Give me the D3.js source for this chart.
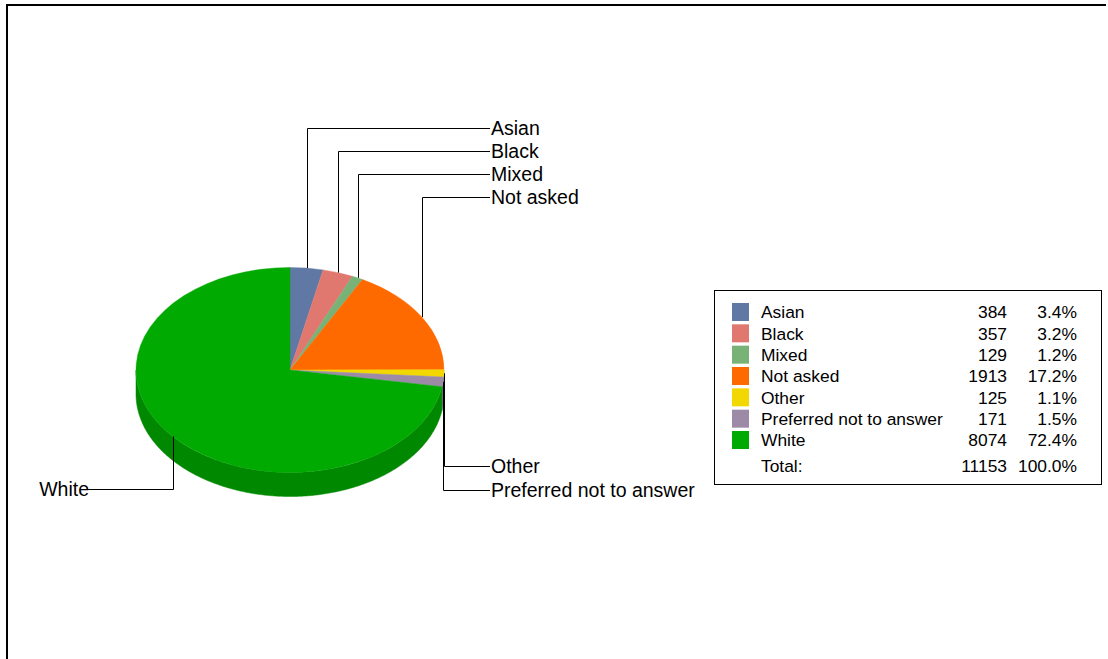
<!DOCTYPE html>
<html>
<head>
<meta charset="utf-8">
<script src="https://cdn.jsdelivr.net/npm/d3@7"></script>
<style>
html,body{margin:0;padding:0;background:#fff;}
svg{display:block;font-family:"Liberation Sans",Arial,sans-serif;}
</style>
</head>
<body>
<svg id="chart" width="1108" height="659"></svg>
<script>
const categories = ["Asian","Black","Mixed","Not asked","Other","Preferred not to answer","White"];
const counts = [384,357,129,1913,125,171,8074];
const percents = ["3.4%","3.2%","1.2%","17.2%","1.1%","1.5%","72.4%"];
const colors = ["#6079a4","#e0786f","#79b276","#ff6a00","#f2d800","#9c8aa6","#00aa00"];
const sideColors = ["#4a5f82","#b35f58","#5e8c5b","#cc5400","#c2ad00","#7c6e85","#008800"];
const totalLabel = "Total:";
const totalCount = 11153;
const totalPercent = "100.0%";

const svg = d3.select("#chart");

// frame
svg.append("path").attr("d","M7,670 L7,5 L1106,5")
  .attr("fill","none").attr("stroke","#000").attr("stroke-width",2);

const cx = 290, cy = 370, rx = 154, ry = 102.5, depth = 24;
const data = categories.map((c,i)=>({name:c,value:counts[i],color:colors[i],side:sideColors[i],i}));
const pie = d3.pie().value(d=>d.value).sort(null);
const arcs = pie(data);

const ell = (a, dy=0) => [cx + rx*Math.sin(a), cy - ry*Math.cos(a) + dy];
const line = d3.line();

// side walls (front half: PI/2 .. 3PI/2)
const gSide = svg.append("g");
arcs.forEach(a=>{
  const s = Math.max(a.startAngle, Math.PI/2), e = Math.min(a.endAngle, 3*Math.PI/2);
  if (e <= s) return;
  const n = Math.max(2, Math.ceil((e-s)/0.01));
  const top = d3.range(n+1).map(k=>ell(s+(e-s)*k/n));
  const bot = d3.range(n+1).map(k=>ell(e-(e-s)*k/n, depth));
  gSide.append("path").attr("d", line(top.concat(bot))+"Z")
    .attr("fill", a.data.side).attr("stroke", a.data.side).attr("stroke-width",0.5);
});

// top surface
const arcGen = d3.arc().innerRadius(0).outerRadius(rx);
svg.append("g").attr("transform",`translate(${cx},${cy}) scale(1,${ry/rx})`)
  .selectAll("path").data(arcs).join("path")
  .attr("d", arcGen).attr("fill", d=>d.data.color)
  .attr("stroke", d=>d.data.color).attr("stroke-width",0.5);

// leader lines and labels
const gL = svg.append("g");
let upIdx = 0, lowIdx = 0;
const labelFont = 19.5;
arcs.forEach(a=>{
  const mid = (a.startAngle + a.endAngle)/2;
  const [px,py] = ell(mid);
  let ly, lx, anchor, lineEnd;
  if (mid < Math.PI/2) { ly = 128 + upIdx*23; upIdx++; lx = 491; anchor="start"; lineEnd = 490; }
  else if (mid < Math.PI) { ly = 466 + lowIdx*24; lowIdx++; lx = 491; anchor="start"; lineEnd = 490; }
  else { ly = 489; lx = 89; anchor="end"; lineEnd = 84; }
  const x0 = Math.round(px)+0.5;
  gL.append("path").attr("d", `M${x0},${py} L${x0},${ly+0.5} L${lineEnd},${ly+0.5}`)
    .attr("fill","none").attr("stroke","#000").attr("stroke-width",1);
  gL.append("text").attr("x",lx).attr("y",ly).attr("dy","0.36em")
    .attr("text-anchor",anchor).attr("font-size",labelFont).attr("fill","#000")
    .text(a.data.name);
});

// legend
const lg = svg.append("g");
lg.append("rect").attr("x",714.5).attr("y",290.5).attr("width",387).attr("height",194)
  .attr("fill","#fff").attr("stroke","#000").attr("stroke-width",1);
const rowY = d3.scalePoint().domain(categories).range([312,440]);
const legFont = 17.4;
categories.forEach((c,i)=>{
  const y = rowY(c);
  lg.append("rect").attr("x",732).attr("y",y-9).attr("width",17).attr("height",18).attr("fill",colors[i]);
  lg.append("text").attr("x",761).attr("y",y).attr("dy","0.36em").attr("font-size",legFont).text(c);
  lg.append("text").attr("x",1007).attr("y",y).attr("dy","0.36em").attr("font-size",legFont).attr("text-anchor","end").text(counts[i]);
  lg.append("text").attr("x",1077).attr("y",y).attr("dy","0.36em").attr("font-size",legFont).attr("text-anchor","end").text(percents[i]);
});
const ty = 466;
lg.append("text").attr("x",761).attr("y",ty).attr("dy","0.36em").attr("font-size",legFont).text(totalLabel);
lg.append("text").attr("x",1007).attr("y",ty).attr("dy","0.36em").attr("font-size",legFont).attr("text-anchor","end").text(totalCount);
lg.append("text").attr("x",1077).attr("y",ty).attr("dy","0.36em").attr("font-size",legFont).attr("text-anchor","end").text(totalPercent);
</script>
</body>
</html>
